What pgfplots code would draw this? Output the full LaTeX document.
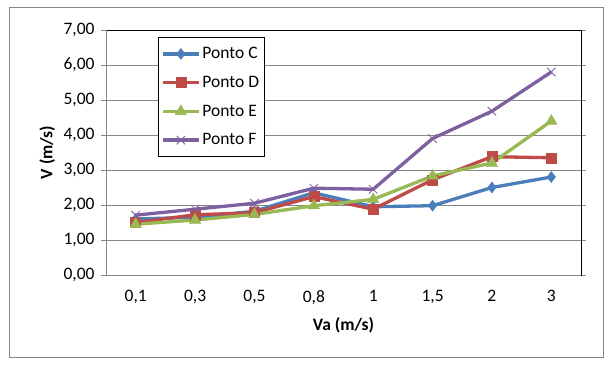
\documentclass[border=0pt]{standalone}
\usepackage{pgfplots}
\pgfplotsset{compat=1.18}
\usepackage{fontspec}
\setmainfont{Carlito}
\definecolor{cC}{HTML}{4A7EBB}
\definecolor{cD}{HTML}{BE4B48}
\definecolor{cE}{HTML}{98B954}
\definecolor{cF}{HTML}{7D60A0}
\definecolor{gridgray}{HTML}{868686}
\begin{document}
\begin{tikzpicture}
\path[use as bounding box] (0,0) rectangle (612bp,369bp);
\fill[white] (0,0) rectangle (612bp,369bp);
\draw[gridgray, line width=1bp] (9bp,11bp) rectangle (603bp,361bp);
\begin{axis}[
  at={(106bp,94bp)}, anchor=south west,
  scale only axis, width=475bp, height=245bp,
  xmin=-0.5, xmax=7.5, ymin=0, ymax=7,
  xtick={0,...,7},
  xticklabels={{0,1},{0,3},{0,5},{0,8},1,{1,5},2,3},
  ytick={0,...,7},
  ymajorgrids, grid style={gridgray, line width=0.8bp},
  major x tick style={draw=none},
  major y tick style={gridgray, line width=0.8bp},
  tick align=outside, major tick length=5bp,
  axis line style={black, line width=0.8bp},
  /pgf/number format/.cd, fixed, fixed zerofill, precision=2, use comma, assume math mode=true,
  /pgfplots/.cd,
  tick label style={font=\fontsize{17.5bp}{21bp}\selectfont},
  yticklabel style={xshift=-3bp},
  xticklabel style={yshift=-7bp},
  xlabel={\textbf{Va (m/s)}},
  ylabel={\textbf{V (m/s)}},
  label style={font=\fontsize{17.5bp}{21bp}\selectfont},
  xlabel style={at={(axis description cs:0.5,-0.204)}, anchor=center},
  ylabel style={at={(axis description cs:-0.124,0.5)}, anchor=center},
  legend style={at={(axis description cs:0.109,0.971)}, anchor=north west,
    draw=black, line width=0.8bp, font=\fontsize{17.5bp}{21bp}\selectfont,
    row sep=12bp, inner xsep=3bp, inner ysep=8bp},
  legend cell align=left,
  legend image code/.code={\draw[mark repeat=2,mark phase=2,#1] plot coordinates {(0bp,0bp) (18bp,0bp) (36bp,0bp)};},
  every axis plot/.append style={line width=3.3bp},
  clip=false,
]
\draw[gridgray, line width=0.8bp] (rel axis cs:0,0) -- (rel axis cs:0,1);
\draw[gridgray, line width=0.8bp] (rel axis cs:0,0) -- (rel axis cs:1,0);
\addplot[cC, mark=diamond*, mark size=5.5bp, mark options={line width=0.5bp}] coordinates {
(0,1.60) (1,1.65) (2,1.82) (3,2.35) (4,1.95) (5,1.98) (6,2.50) (7,2.80)};
\addlegendentry{Ponto C}
\addplot[cD, mark=square*, mark size=5bp, mark options={line width=0.5bp}] coordinates {
(0,1.50) (1,1.72) (2,1.78) (3,2.24) (4,1.88) (5,2.72) (6,3.38) (7,3.35)};
\addlegendentry{Ponto D}
\addplot[cE, mark=triangle*, mark size=6.5bp, mark options={line width=0.5bp}] coordinates {
(0,1.45) (1,1.57) (2,1.73) (3,1.98) (4,2.16) (5,2.83) (6,3.20) (7,4.40)};
\addlegendentry{Ponto E}
\addplot[cF, mark=x, mark size=6bp, mark options={line width=0.8bp}] coordinates {
(0,1.71) (1,1.88) (2,2.05) (3,2.48) (4,2.45) (5,3.90) (6,4.68) (7,5.80)};
\addlegendentry{Ponto F}
\end{axis}
\end{tikzpicture}
\end{document}
